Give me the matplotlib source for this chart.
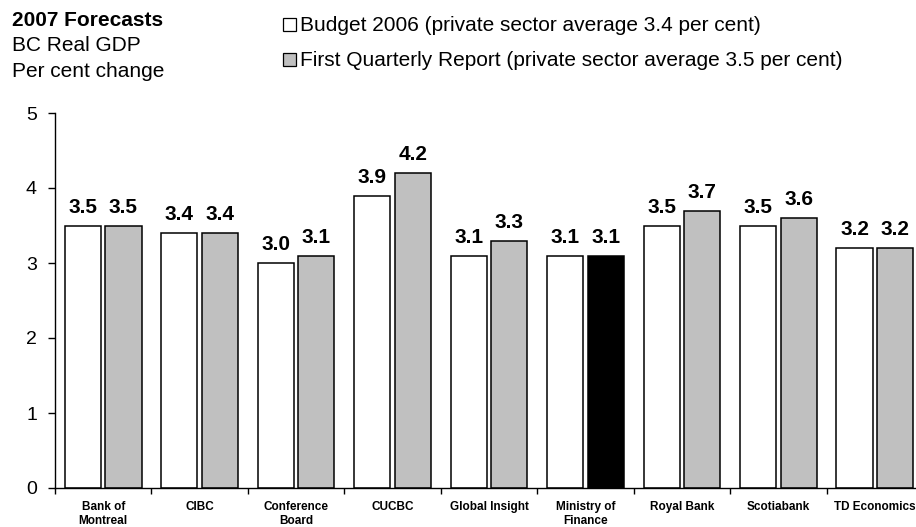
import matplotlib
matplotlib.use("Agg")
import matplotlib.pyplot as plt
from matplotlib.patches import Rectangle
import numpy as np

plt.rcParams['font.family'] = ['Liberation Sans', 'DejaVu Sans']

categories = ["Bank of\nMontreal", "CIBC", "Conference\nBoard", "CUCBC", "Global Insight",
              "Ministry of\nFinance", "Royal Bank", "Scotiabank", "TD Economics"]
budget_2006 = [3.5, 3.4, 3.0, 3.9, 3.1, 3.1, 3.5, 3.5, 3.2]
first_quarterly = [3.5, 3.4, 3.1, 4.2, 3.3, 3.1, 3.7, 3.6, 3.2]
legend_labels = ["Budget 2006 (private sector average 3.4 per cent)",
                 "First Quarterly Report (private sector average 3.5 per cent)"]
header_lines = ["2007 Forecasts", "BC Real GDP", "Per cent change"]
yticks = [0, 1, 2, 3, 4, 5]

W, H = 916, 527
fig = plt.figure(figsize=(W / 100, H / 100), dpi=100)
ax_left, ax_right, ax_bottom, ax_top = 55, 923, 488, 113
ax = fig.add_axes([ax_left / W, 1 - ax_bottom / H, (ax_right - ax_left) / W, (ax_bottom - ax_top) / H])

x = np.arange(len(categories))
bw = 0.375
grey = "#c0c0c0"
colors2 = [grey] * len(categories)
colors2[5] = "black"
b1 = ax.bar(x - 0.21, budget_2006, bw, color="white", edgecolor="black", linewidth=1.1, zorder=2)
b2 = ax.bar(x + 0.21, first_quarterly, bw, color=colors2, edgecolor="black", linewidth=1.1, zorder=2)

for bars, vals in ((b1, budget_2006), (b2, first_quarterly)):
    for r, v in zip(bars, vals):
        ax.text(r.get_x() + r.get_width() / 2, v + 0.17, f"{v:.1f}", ha="center", va="baseline",
                fontsize=15, fontweight="bold")

ax.set_xlim(-0.5, len(categories) - 0.5)
ax.set_ylim(0, 5)
ax.set_yticks(yticks)
ax.tick_params(axis='y', labelsize=14, length=5, width=1, direction='out', pad=8)
ax.set_xticks(np.arange(len(categories) + 1) - 0.5)
ax.set_xticklabels([])
ax.tick_params(axis='x', length=4, width=1, direction='out')
for i, c in enumerate(categories):
    ax.text(i, -0.17, c, ha="center", va="top", fontsize=8.5, fontweight="bold", linespacing=1.2)

for s in ("top", "right"):
    ax.spines[s].set_visible(False)
for s in ("left", "bottom"):
    ax.spines[s].set_linewidth(1.0)

for (yy, txt, fw) in ((26, header_lines[0], "bold"), (51, header_lines[1], "normal"),
                      (77, header_lines[2], "normal")):
    fig.text(12 / W, 1 - yy / H, txt, fontsize=15, fontweight=fw, va="baseline", ha="left")

for yy, lab, fc in ((31, legend_labels[0], "white"), (66, legend_labels[1], grey)):
    fig.patches.append(Rectangle((283 / W, 1 - yy / H), 13 / W, 13 / H, transform=fig.transFigure,
                                 facecolor=fc, edgecolor="black", linewidth=0.9))
    fig.text(300 / W, 1 - yy / H, lab, fontsize=15, va="baseline", ha="left")

fig.savefig("out.png", dpi=100)
